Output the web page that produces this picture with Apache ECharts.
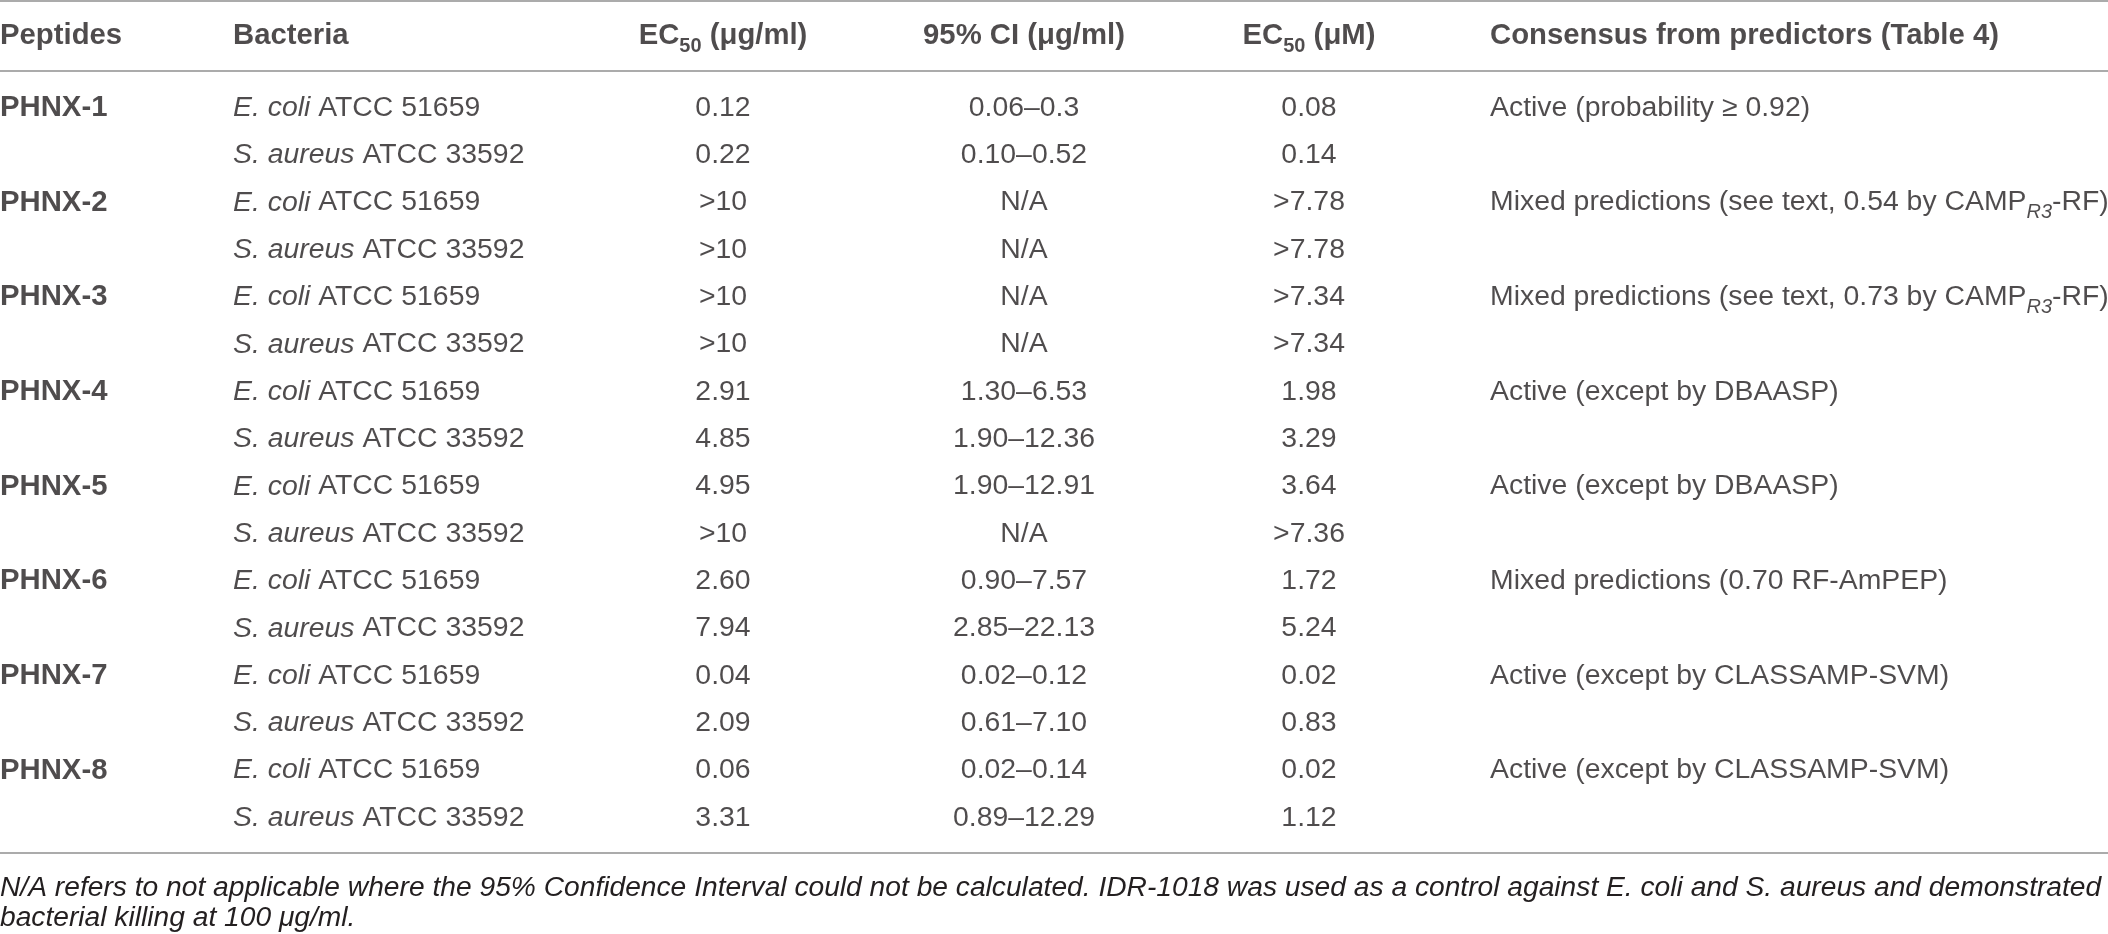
<!DOCTYPE html>
<html>
<head>
<meta charset="utf-8">
<script src="https://cdn.jsdelivr.net/npm/echarts@6/dist/echarts.min.js"></script>
<style>
  html, body { margin: 0; padding: 0; background: #fff; }
  #main { width: 2108px; height: 934px; }
</style>
</head>
<body>
<div id="main"></div>
<script>
// table data
var headers = ['Peptides', 'Bacteria', 'EC{bsub|50} (μg/ml)', '95% CI (μg/ml)', 'EC{bsub|50} (μM)', 'Consensus from predictors (Table 4{hn|)}'];
var peptides = ['PHNX-1', 'PHNX-2', 'PHNX-3', 'PHNX-4', 'PHNX-5', 'PHNX-6', 'PHNX-7', 'PHNX-8'];
var species = ['E. coli', 'S. aureus'];
var strainIds = ['ATCC 51659', 'ATCC 33592'];
var ec50Ug = ['0.12', '0.22', '>10', '>10', '>10', '>10', '2.91', '4.85', '4.95', '>10', '2.60', '7.94', '0.04', '2.09', '0.06', '3.31'];
var ci95 = ['0.06–0.3', '0.10–0.52', 'N/A', 'N/A', 'N/A', 'N/A', '1.30–6.53', '1.90–12.36', '1.90–12.91', 'N/A', '0.90–7.57', '2.85–22.13', '0.02–0.12', '0.61–7.10', '0.02–0.14', '0.89–12.29'];
var ec50uM = ['0.08', '0.14', '>7.78', '>7.78', '>7.34', '>7.34', '1.98', '3.29', '3.64', '>7.36', '1.72', '5.24', '0.02', '0.83', '0.02', '1.12'];
var consensus = [
  'Active (probability ≥ 0.92)',
  'Mixed predictions (see text, 0.54 by CAMP_R3-RF)',
  'Mixed predictions (see text, 0.73 by CAMP_R3-RF)',
  'Active (except by DBAASP)',
  'Active (except by DBAASP)',
  'Mixed predictions (0.70 RF-AmPEP)',
  'Active (except by CLASSAMP-SVM)',
  'Active (except by CLASSAMP-SVM)'
];
var footnote = [
  'N/A refers to not applicable where the 95% Confidence Interval could not be calculated. IDR-1018 was used as a control against E. coli and S. aureus and demonstrated',
  'bacterial killing at 100 μg/ml.'
];

// layout
var colX = [0, 233, 723, 1024, 1309, 1490];
var colAlign = ['left', 'left', 'center', 'center', 'center', 'left'];
var FONT = '"Liberation Sans", Arial, Helvetica, sans-serif';
var INK = '#231f20';
var RULE = '#ababab';
var FS = 28.4;   // regular text
var FB = 29.3;   // bold text

var rowKeys = [];
for (var r = 0; r < peptides.length * species.length; r++) rowKeys.push('r' + r);

var rich = {
  i: { fontFamily: FONT, fontSize: FS, fontStyle: 'italic', color: INK, lineHeight: 40 },
  hn: { fontFamily: FONT, fontSize: FB, color: INK, lineHeight: 40 },
  bsub: { fontFamily: FONT, fontSize: 20, fontWeight: 'bold', color: INK, lineHeight: 22, verticalAlign: 'bottom' },
  isub: { fontFamily: FONT, fontSize: 20, fontStyle: 'italic', color: INK, lineHeight: 22, verticalAlign: 'bottom' }
};

function cell(x, y, text, align, bold) {
  return {
    value: [x, y],
    label: {
      formatter: text,
      align: align,
      fontWeight: bold ? 'bold' : 'normal',
      fontSize: bold ? FB : FS
    }
  };
}

var headCells = headers.map(function (h, k) {
  return cell(colX[k], 0, h, colAlign[k], true);
});

var bodyCells = [];
peptides.forEach(function (p, pi) {
  species.forEach(function (s, si) {
    var row = pi * species.length + si;
    if (si === 0) bodyCells.push(cell(colX[0], row, p, 'left', true));
    bodyCells.push(cell(colX[1], row, '{i|' + s + '} ' + strainIds[si], 'left'));
    bodyCells.push(cell(colX[2], row, ec50Ug[row], 'center'));
    bodyCells.push(cell(colX[3], row, ci95[row], 'center'));
    bodyCells.push(cell(colX[4], row, ec50uM[row], 'center'));
    if (si === 0) bodyCells.push(cell(colX[5], row, consensus[pi].replace('_R3', '{isub|R3}'), 'left'));
  });
});

var hidden = { show: false };
function xAx(grid, pos, showLine, offset) {
  return {
    type: 'value', gridIndex: grid, position: pos, min: 0, max: 2108, offset: offset || 0,
    axisLine: { show: showLine, onZero: false, lineStyle: { color: RULE, width: 2 } },
    axisTick: hidden, axisLabel: hidden, splitLine: hidden
  };
}

var labelBase = {
  show: true, position: 'inside', verticalAlign: 'middle',
  fontFamily: FONT, color: INK, lineHeight: 40, rich: rich
};

var chart = echarts.init(document.getElementById('main'));
chart.setOption({
  animation: false,
  backgroundColor: '#fff',
  grid: [
    { left: 0, right: 0, top: 1, height: 70 },
    { left: 0, right: 0, top: 84.3, height: 757.3 }
  ],
  xAxis: [
    xAx(0, 'top', true),
    xAx(0, 'bottom', true),
    xAx(1, 'bottom', true, 11)
  ],
  yAxis: [
    { type: 'category', gridIndex: 0, data: ['head'], show: false },
    { type: 'category', gridIndex: 1, data: rowKeys, inverse: true, show: false }
  ],
  series: [
    {
      type: 'scatter', xAxisIndex: 0, yAxisIndex: 0, symbolSize: 0,
      silent: true, label: labelBase, data: headCells
    },
    {
      type: 'scatter', xAxisIndex: 2, yAxisIndex: 1, symbolSize: 0,
      silent: true, label: labelBase, data: bodyCells
    }
  ],
  graphic: footnote.map(function (t, k) {
    return {
      type: 'text', x: 0, y: [888, 918][k],
      style: {
        text: t, fill: INK, font: 'italic 28.2px ' + FONT,
        textAlign: 'left', textVerticalAlign: 'middle'
      }
    };
  })
});
</script>
</body>
</html>
